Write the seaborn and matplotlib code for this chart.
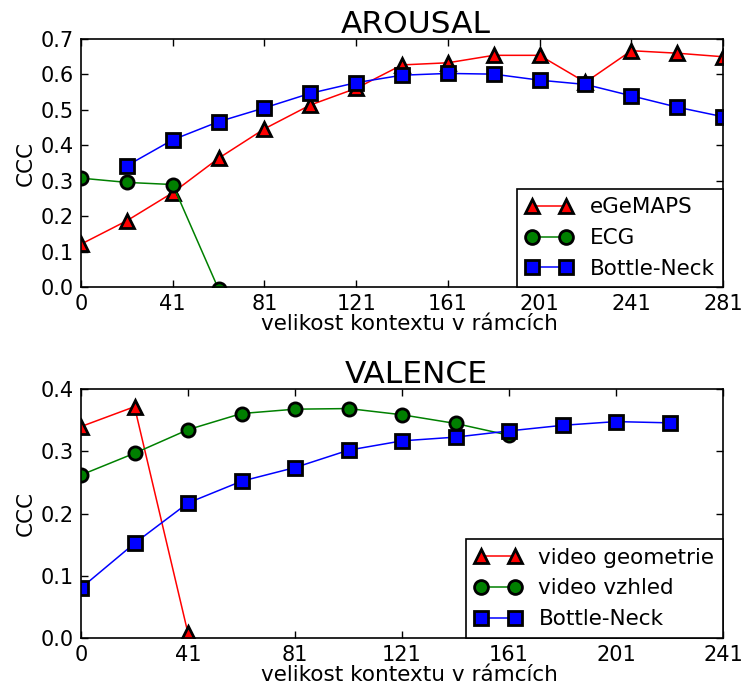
import matplotlib
matplotlib.use("Agg")
import matplotlib.pyplot as plt
import seaborn as sns
import pandas as pd

# Arousal: CCC per context window size (frames)
arousal_ticks = ["0", "41", "81", "121", "161", "201", "241", "281"]
arousal_egemaps = [0.122, 0.188, 0.267, 0.364, 0.447, 0.514, 0.561, 0.627,
                   0.633, 0.654, 0.654, 0.578, 0.667, 0.660, 0.650]
arousal_ecg = [0.308, 0.296, 0.290, -0.005]
arousal_bottleneck = [None, 0.343, 0.416, 0.467, 0.506, 0.547, 0.577, 0.598,
                      0.603, 0.601, 0.584, 0.572, 0.540, 0.508, 0.481]

# Valence: CCC per context window size (frames)
valence_ticks = ["0", "41", "81", "121", "161", "201", "241"]
valence_geometry = [0.340, 0.372, 0.007]
valence_appearance = [0.262, 0.297, 0.335, 0.361, 0.368, 0.369, 0.359,
                      0.345, 0.326]
valence_bottleneck = [0.080, 0.152, 0.217, 0.252, 0.274, 0.302, 0.317,
                      0.323, 0.333, 0.342, 0.348, 0.346]

sns.set_theme(style="white", rc={
    "xtick.direction": "in", "ytick.direction": "in",
    "xtick.top": True, "ytick.right": True,
    "xtick.bottom": True, "ytick.left": True,
    "xtick.major.size": 5, "ytick.major.size": 5,
    "xtick.major.width": 1, "ytick.major.width": 1,
    "axes.edgecolor": "black", "axes.linewidth": 1.2,
    "xtick.color": "black", "ytick.color": "black",
    "text.color": "black", "axes.labelcolor": "black",
})
plt.rcParams["font.family"] = ["DejaVu Sans"]

fig = plt.figure(figsize=(7.46, 6.83), dpi=100)
ax1 = fig.add_axes([0.1086, 0.5791, 0.8606, 0.3638])
ax2 = fig.add_axes([0.1086, 0.0663, 0.8606, 0.3637])

style = dict(markersize=9.5, markeredgecolor="black", markeredgewidth=2,
             linewidth=1.1, clip_on=True)


def series(values):
    df = pd.DataFrame({"step": range(len(values)), "ccc": values})
    return df.dropna()


def draw(ax, items, ticks, ymax, title):
    for vals, color, marker, label in items:
        sns.lineplot(data=series(vals), x="step", y="ccc", ax=ax,
                     color=color, marker=marker, label=label, **style)
    nsteps = 2 * (len(ticks) - 1)
    ax.set_xlim(0, nsteps)
    ax.set_xticks(range(0, nsteps + 1, 2))
    ax.set_xticklabels(ticks)
    ax.set_ylim(0, ymax)
    yt = [i / 10 for i in range(int(round(ymax * 10)) + 1)]
    ax.set_yticks(yt)
    ax.set_yticklabels([f"{v:.1f}" for v in yt])
    ax.tick_params(labelsize=15, pad=5)
    ax.set_xlabel("velikost kontextu v rámcích", fontsize=15.5, labelpad=0,
                  x=0.511)
    ax.set_ylabel("CCC", fontsize=15.5, labelpad=4)
    ax.set_title(title, fontsize=22.5, pad=4, x=0.522)
    leg = ax.legend(loc="lower right", borderaxespad=0, numpoints=2,
                    fontsize=15.5, fancybox=False, framealpha=1,
                    edgecolor="black", handlelength=2.2, handletextpad=0.77,
                    labelspacing=0.5, borderpad=0.4, markerscale=1.05)
    leg.get_frame().set_linewidth(1.2)


draw(ax1, [(arousal_egemaps, "#ff0000", "^", "eGeMAPS"),
           (arousal_ecg, "#008000", "o", "ECG"),
           (arousal_bottleneck, "#0000ff", "s", "Bottle-Neck")],
     arousal_ticks, 0.7, "AROUSAL")
draw(ax2, [(valence_geometry, "#ff0000", "^", "video geometrie"),
           (valence_appearance, "#008000", "o", "video vzhled"),
           (valence_bottleneck, "#0000ff", "s", "Bottle-Neck")],
     valence_ticks, 0.4, "VALENCE")

fig.savefig("out.png", dpi=100)
